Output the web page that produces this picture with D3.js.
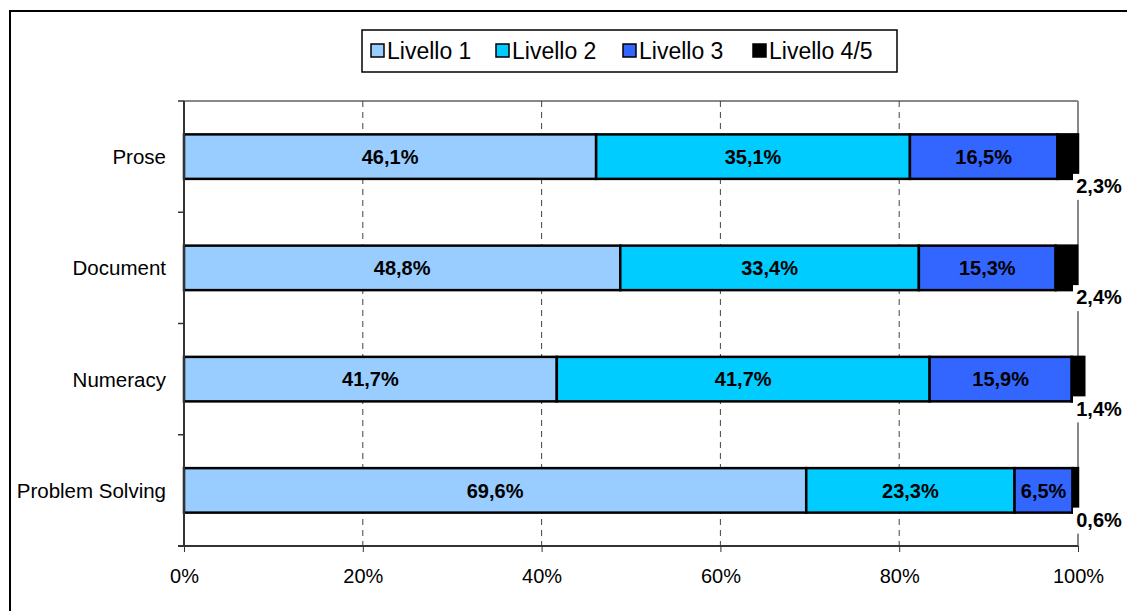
<!DOCTYPE html>
<html>
<head>
<meta charset="utf-8">
<script src="https://cdn.jsdelivr.net/npm/d3@7"></script>
<style>
  body { margin: 0; background: #fff; }
  text { font-family: "Liberation Sans", Arial, sans-serif; }
</style>
</head>
<body>
<svg id="svg"></svg>
<script>
const categories = ['Prose', 'Document', 'Numeracy', 'Problem Solving']
const levels = ['Livello 1', 'Livello 2', 'Livello 3', 'Livello 4/5']
const livello1 = [46.1, 48.8, 41.7, 69.6]
const livello2 = [35.1, 33.4, 41.7, 23.3]
const livello3 = [16.5, 15.3, 15.9, 6.5]
const livello45 = [2.3, 2.4, 1.4, 0.6]
const colors = ['#99ccff', '#00ccff', '#3366ff', '#000000']
const xTicks = [0, 20, 40, 60, 80, 100]

const width = 1127
const height = 611

const svg = d3.select('#svg')
  .attr('width', width)
  .attr('height', height)

// outer chart frame (right & bottom run off the picture)
svg.append('rect')
  .attr('x', 10).attr('y', 11)
  .attr('width', 1200).attr('height', 700)
  .attr('fill', 'none')
  .attr('stroke', '#000')
  .attr('stroke-width', 2)

const padding = { top: 101, right: 49, bottom: 65, left: 184 }
const chartArea = {
  width: width - padding.left - padding.right,
  height: height - padding.top - padding.bottom
}

const table = categories.map((c, i) => ({
  name: c,
  'Livello 1': livello1[i],
  'Livello 2': livello2[i],
  'Livello 3': livello3[i],
  'Livello 4/5': livello45[i]
}))
const series = d3.stack().keys(levels)(table)

const xScale = d3.scaleLinear().domain([0, 100]).range([0, chartArea.width])
const yScale = d3.scaleBand().domain(categories).range([0, chartArea.height])
  .paddingInner(0.6).paddingOuter(0.3)
const bandScale = d3.scaleBand().domain(categories).range([0, chartArea.height])
const colorScale = d3.scaleOrdinal().domain(levels).range(colors)

const g = svg.append('g')
  .attr('transform', 'translate(' + padding.left + ',' + padding.top + ')')

// top border of plot area
g.append('line')
  .attr('x1', 0).attr('x2', chartArea.width)
  .attr('y1', 0).attr('y2', 0)
  .attr('stroke', '#888').attr('stroke-width', 2)

// gridlines
g.selectAll('.grid')
  .data(xTicks.filter(t => t > 0))
  .enter()
  .append('line')
  .attr('x1', d => xScale(d)).attr('x2', d => xScale(d))
  .attr('y1', 0).attr('y2', chartArea.height)
  .attr('stroke', d => d === 100 ? '#888' : '#444')
  .attr('stroke-width', d => d === 100 ? 2 : 1)
  .attr('stroke-dasharray', d => d === 100 ? null : '6,5')

// bars
const layer = g.selectAll('.layer')
  .data(series)
  .enter()
  .append('g')
  .attr('fill', d => colorScale(d.key))

layer.selectAll('rect')
  .data(d => d)
  .enter()
  .append('rect')
  .attr('x', d => xScale(d[0]))
  .attr('y', d => yScale(d.data.name))
  .attr('width', d => xScale(d[1]) - xScale(d[0]))
  .attr('height', yScale.bandwidth())
  .attr('stroke', '#000')
  .attr('stroke-width', 2.5)

// value labels
const fmt = v => d3.format('.1f')(v).replace('.', ',') + '%'
series.forEach((s, si) => {
  s.forEach(d => {
    const v = d[1] - d[0]
    const cy = yScale(d.data.name) + yScale.bandwidth() / 2
    if (si < 3) {
      g.append('text')
        .attr('x', (xScale(d[0]) + xScale(d[1])) / 2)
        .attr('y', cy)
        .attr('dy', '0.36em')
        .attr('text-anchor', 'middle')
        .attr('font-size', 20)
        .attr('font-weight', 'bold')
        .text(fmt(v))
    } else {
      const lx = chartArea.width + 21
      const ly = yScale(d.data.name) + yScale.bandwidth() + 7
      g.append('rect')
        .attr('x', lx - 26).attr('y', ly - 12)
        .attr('width', 52).attr('height', 26)
        .attr('fill', '#fff')
      g.append('text')
        .attr('x', lx)
        .attr('y', ly)
        .attr('dy', '0.36em')
        .attr('text-anchor', 'middle')
        .attr('font-size', 20)
        .attr('font-weight', 'bold')
        .text(fmt(v))
    }
  })
})

// axes
const xAxis = g.append('g')
  .attr('transform', 'translate(0,' + chartArea.height + ')')
  .call(d3.axisBottom(xScale).tickValues(xTicks).tickSize(6).tickPadding(17)
    .tickFormat(d => d + '%'))
xAxis.select('.domain').attr('stroke', '#333').attr('stroke-width', 2)
  .attr('d', 'M-6,0H' + chartArea.width)
xAxis.selectAll('line').attr('stroke', '#333')
xAxis.selectAll('text').attr('font-size', 20).attr('fill', '#000')
  .style('font-family', '"Liberation Sans", Arial, sans-serif')

const yAxis = g.append('g')
xAxis.raise()
yAxis.append('line')
  .attr('x1', 0).attr('x2', 0).attr('y1', 0).attr('y2', chartArea.height)
  .attr('stroke', '#333').attr('stroke-width', 2)
const boundaries = categories.map(c => bandScale(c)).concat([chartArea.height])
yAxis.selectAll('.tk')
  .data(boundaries)
  .enter()
  .append('line')
  .attr('x1', -6).attr('x2', 0)
  .attr('y1', d => d).attr('y2', d => d)
  .attr('stroke', '#333').attr('stroke-width', 1.5)
yAxis.selectAll('.lbl')
  .data(categories)
  .enter()
  .append('text')
  .attr('x', -18)
  .attr('y', d => yScale(d) + yScale.bandwidth() / 2)
  .attr('dy', '0.36em')
  .attr('text-anchor', 'end')
  .attr('font-size', 20.5)
  .text(d => d)

// legend
const legend = svg.append('g').attr('transform', 'translate(362,30)')
legend.append('rect')
  .attr('width', 535).attr('height', 42)
  .attr('fill', '#fff').attr('stroke', '#000').attr('stroke-width', 1.5)
const legendX = [9, 134, 261, 391]
levels.forEach((lv, i) => {
  legend.append('rect')
    .attr('x', legendX[i]).attr('y', 14)
    .attr('width', 13).attr('height', 13)
    .attr('fill', colors[i]).attr('stroke', '#000').attr('stroke-width', 1.5)
  legend.append('text')
    .attr('x', legendX[i] + 16).attr('y', 21)
    .attr('dy', '0.36em')
    .attr('font-size', 23)
    .text(lv)
})
</script>
</body>
</html>
